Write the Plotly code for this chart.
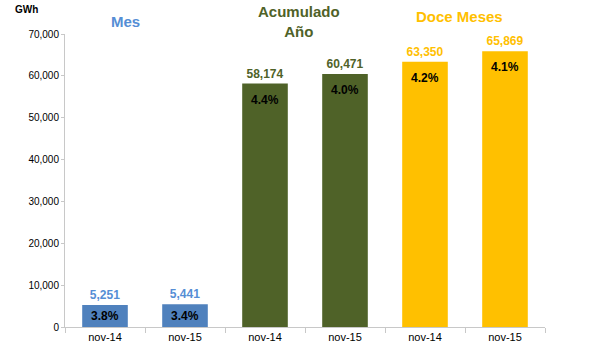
import plotly.graph_objects as go

tick_labels = ["nov-14", "nov-15", "nov-14", "nov-15", "nov-14", "nov-15"]
values = [5251, 5441, 58174, 60471, 63350, 65869]
growth = ["3.8%", "3.4%", "4.4%", "4.0%", "4.2%", "4.1%"]
group_titles = ["Mes", "Acumulado<br>Año", "Doce Meses"]
bar_colors = ["#4F81BD", "#4F81BD", "#4F6228", "#4F6228", "#FFC000", "#FFC000"]
label_colors = ["#558ED5", "#558ED5", "#4F6228", "#4F6228", "#FFC000", "#FFC000"]
title_colors = ["#558ED5", "#4F6228", "#FFC000"]
title_x = [0.25, 2.425, 4.425]
title_y = [1.044, 1.041, 1.061]

FONT = "Liberation Sans, Arial, sans-serif"
xs = list(range(len(values)))

fig = go.Figure()
fig.add_trace(go.Bar(
    x=xs, y=values, width=0.57,
    marker=dict(color=bar_colors, line=dict(width=0)),
    text=[f"<b>{v:,}</b>" for v in values],
    textposition="outside",
    textfont=dict(family=FONT, size=12, color=label_colors),
    cliponaxis=False,
    hoverinfo="skip",
))

for x, v, g in zip(xs, values, growth):
    if v < 15000:
        fig.add_annotation(x=x, y=v / 2, xref="x", yref="y", text=f"<b>{g}</b>",
                           showarrow=False, yanchor="middle",
                           font=dict(family=FONT, size=12, color="#000000"))
    else:
        fig.add_annotation(x=x, y=v, xref="x", yref="y", text=f"<b>{g}</b>",
                           showarrow=False, yanchor="top", yshift=-7,
                           font=dict(family=FONT, size=12, color="#000000"))

for t, c, tx, ty in zip(group_titles, title_colors, title_x, title_y):
    fig.add_annotation(x=tx, y=ty, xref="x", yref="paper",
                       text=f"<b>{t}</b>", showarrow=False, yanchor="middle",
                       font=dict(family=FONT, size=15, color=c))

fig.add_annotation(x=-0.081, y=1.085, xref="paper", yref="paper", text="<b>GWh</b>",
                   showarrow=False, xanchor="center", yanchor="middle",
                   font=dict(family=FONT, size=10, color="#000000"))

fig.update_layout(
    width=589, height=357,
    margin=dict(l=65, r=44, t=34, b=30),
    paper_bgcolor="white", plot_bgcolor="white",
    showlegend=False,
    font=dict(family=FONT, size=10, color="#000000"),
    xaxis=dict(
        range=[-0.5, 5.5], tickvals=xs, ticktext=tick_labels,
        ticks="", showline=True, linecolor="#C8C8C8", linewidth=1,
        showgrid=False, zeroline=False,
        tickfont=dict(family=FONT, size=11, color="#000000"),
        minor=dict(tickvals=[i - 0.5 for i in range(7)], ticks="outside",
                   ticklen=5, tickcolor="#C8C8C8", showgrid=False),
    ),
    yaxis=dict(
        range=[0, 70000], tickvals=list(range(0, 70001, 10000)),
        tickformat=",d", showline=True, linecolor="#C8C8C8", linewidth=1,
        ticks="outside", ticklen=3, tickcolor="#C8C8C8",
        showgrid=False, zeroline=False,
        tickfont=dict(family=FONT, size=10, color="#000000"),
    ),
)

fig.write_html(
    "out.html",
    config={"displayModeBar": False},
    post_script="document.body.style.margin='0';document.body.style.overflow='hidden';",
)
